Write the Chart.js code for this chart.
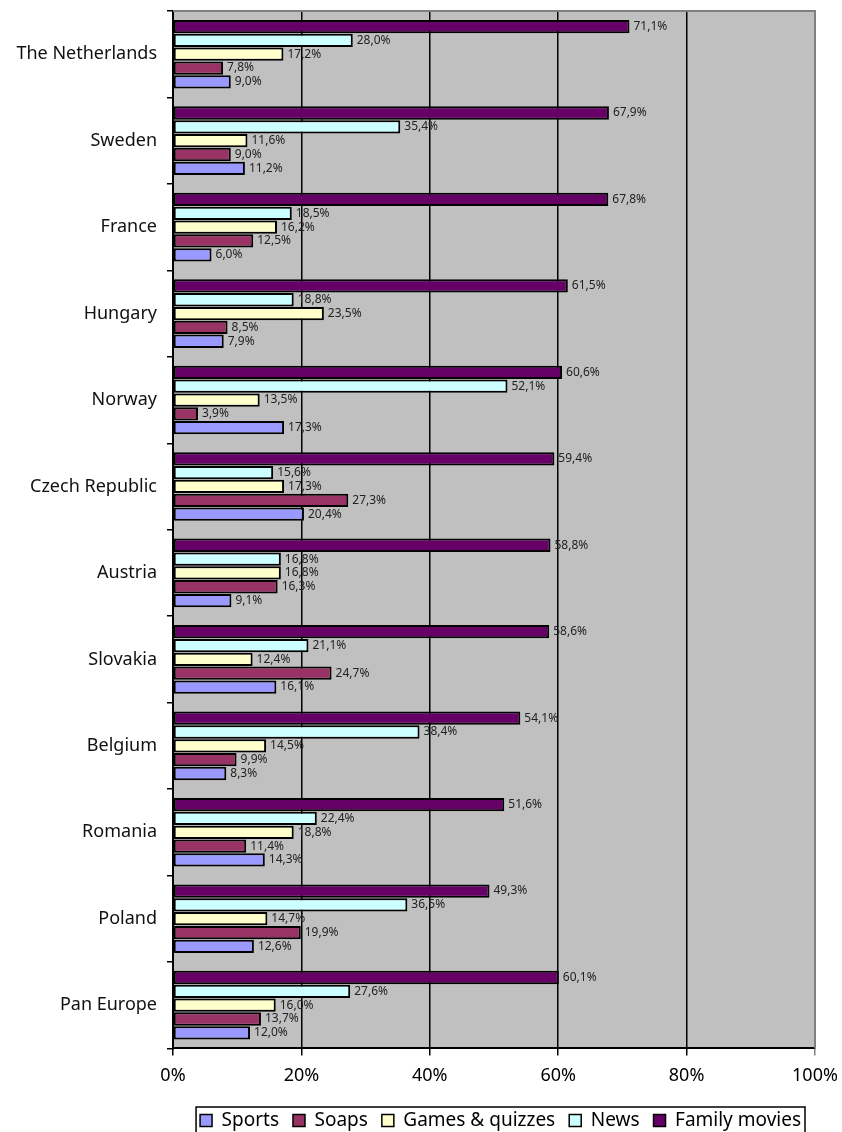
<!DOCTYPE html>
<html>
<head>
<meta charset="utf-8">
<script src="https://cdn.jsdelivr.net/npm/chart.js@4/dist/chart.umd.min.js"></script>
<style>
  body { margin: 0; background: #fff; }
  canvas { display: block; }
</style>
</head>
<body>
<canvas id="chart" width="842" height="1132"></canvas>
<script>
const countries = ["The Netherlands", "Sweden", "France", "Hungary", "Norway", "Czech Republic",
  "Austria", "Slovakia", "Belgium", "Romania", "Poland", "Pan Europe"];
const familyMovies = [71.1, 67.9, 67.8, 61.5, 60.6, 59.4, 58.8, 58.6, 54.1, 51.6, 49.3, 60.1];
const news = [28.0, 35.4, 18.5, 18.8, 52.1, 15.6, 16.8, 21.1, 38.4, 22.4, 36.5, 27.6];
const games = [17.2, 11.6, 16.2, 23.5, 13.5, 17.3, 16.8, 12.4, 14.5, 18.8, 14.7, 16.0];
const soaps = [7.8, 9.0, 12.5, 8.5, 3.9, 27.3, 16.3, 24.7, 9.9, 11.4, 19.9, 13.7];
const sports = [9.0, 11.2, 6.0, 7.9, 17.3, 20.4, 9.1, 16.1, 8.3, 14.3, 12.6, 12.0];
const xTicks = [0, 20, 40, 60, 80, 100];

const FONT = "'Noto Sans', sans-serif";

// grey plot background + grey frame on top/right
const plotBg = {
  id: "plotBg",
  beforeDraw(chart) {
    const { ctx, chartArea: a } = chart;
    ctx.save();
    ctx.fillStyle = "#c0c0c0";
    ctx.fillRect(a.left, a.top, a.right - a.left, a.bottom - a.top);
    ctx.restore();
  },
  afterDraw(chart) {
    const { ctx, chartArea: a } = chart;
    ctx.save();
    ctx.strokeStyle = "#808080";
    ctx.lineWidth = 2;
    ctx.beginPath();
    ctx.moveTo(a.left, a.top);
    ctx.lineTo(a.right, a.top);
    ctx.lineTo(a.right, a.bottom);
    ctx.stroke();
    // frame around the legend items
    const boxes = chart.legend.legendHitBoxes;
    if (boxes && boxes.length) {
      const l = Math.min(...boxes.map(b => b.left)) - 4;
      const r = Math.max(...boxes.map(b => b.left + b.width)) + 4;
      const t = boxes[0].top - 4;
      ctx.strokeStyle = "#000";
      ctx.lineWidth = 1.5;
      ctx.strokeRect(l, t, r - l, 60);
    }
    ctx.restore();
  }
};

// value labels at the end of each bar
const valueLabels = {
  id: "valueLabels",
  afterDatasetsDraw(chart) {
    const { ctx } = chart;
    ctx.save();
    ctx.font = "12px " + FONT;
    ctx.fillStyle = "#222";
    ctx.textAlign = "left";
    ctx.textBaseline = "middle";
    chart.data.datasets.forEach((ds, i) => {
      chart.getDatasetMeta(i).data.forEach((bar, j) => {
        const txt = ds.data[j].toFixed(1).replace(".", ",") + "%";
        ctx.fillText(txt, bar.x + 4, bar.y);
      });
    });
    ctx.restore();
  }
};

new Chart(document.getElementById("chart"), {
  type: "bar",
  data: {
    labels: countries,
    datasets: [
      { label: "Family movies", data: familyMovies, backgroundColor: "#660066" },
      { label: "News", data: news, backgroundColor: "#ccffff" },
      { label: "Games & quizzes", data: games, backgroundColor: "#ffffcc" },
      { label: "Soaps", data: soaps, backgroundColor: "#993366" },
      { label: "Sports", data: sports, backgroundColor: "#9999ff" }
    ]
  },
  options: {
    indexAxis: "y",
    responsive: false,
    animation: false,
    layout: { padding: { top: 11, right: 27, left: 0, bottom: -8 } },
    datasets: {
      bar: {
        borderColor: "#000",
        borderWidth: 2,
        borderSkipped: false,
        categoryPercentage: 0.8,
        barPercentage: 0.96
      }
    },
    scales: {
      x: {
        min: 0,
        max: 100,
        afterBuildTicks(scale) { scale.ticks = xTicks.map(v => ({ value: v })); },
        afterFit(scale) { scale.paddingLeft = 0; scale.paddingRight = 0; },
        ticks: {
          callback: v => v + "%",
          color: "#000",
          font: { family: FONT, size: 18 },
          padding: 10
        },
        grid: {
          color: c => c.tick && c.tick.value === 100 ? "#808080" : "#000",
          lineWidth: 1.5,
          tickLength: 7
        },
        border: { color: "#000", width: 2 }
      },
      y: {
        afterFit(scale) {
          scale.width = 173;
          scale.paddingTop = 0;
          scale.paddingBottom = 0;
        },
        ticks: {
          color: "#111",
          font: { family: FONT, size: 18 },
          padding: 10
        },
        grid: {
          offset: true,
          drawOnChartArea: false,
          color: "#000",
          lineWidth: 1.5,
          tickLength: 6
        },
        border: { color: "#000", width: 2 }
      }
    },
    plugins: {
      legend: {
        position: "bottom",
        align: "end",
        reverse: true,
        labels: {
          color: "#000",
          font: { family: FONT, size: 19 },
          boxWidth: 12,
          boxHeight: 12,
          padding: 14,
          generateLabels(chart) {
            return chart.data.datasets.map((ds, i) => ({
              text: ds.label,
              fillStyle: ds.backgroundColor,
              strokeStyle: "#000",
              lineWidth: 1.5,
              datasetIndex: i,
              hidden: false
            }));
          }
        }
      },
      tooltip: { enabled: false }
    }
  },
  plugins: [plotBg, valueLabels]
});
</script>
</body>
</html>
